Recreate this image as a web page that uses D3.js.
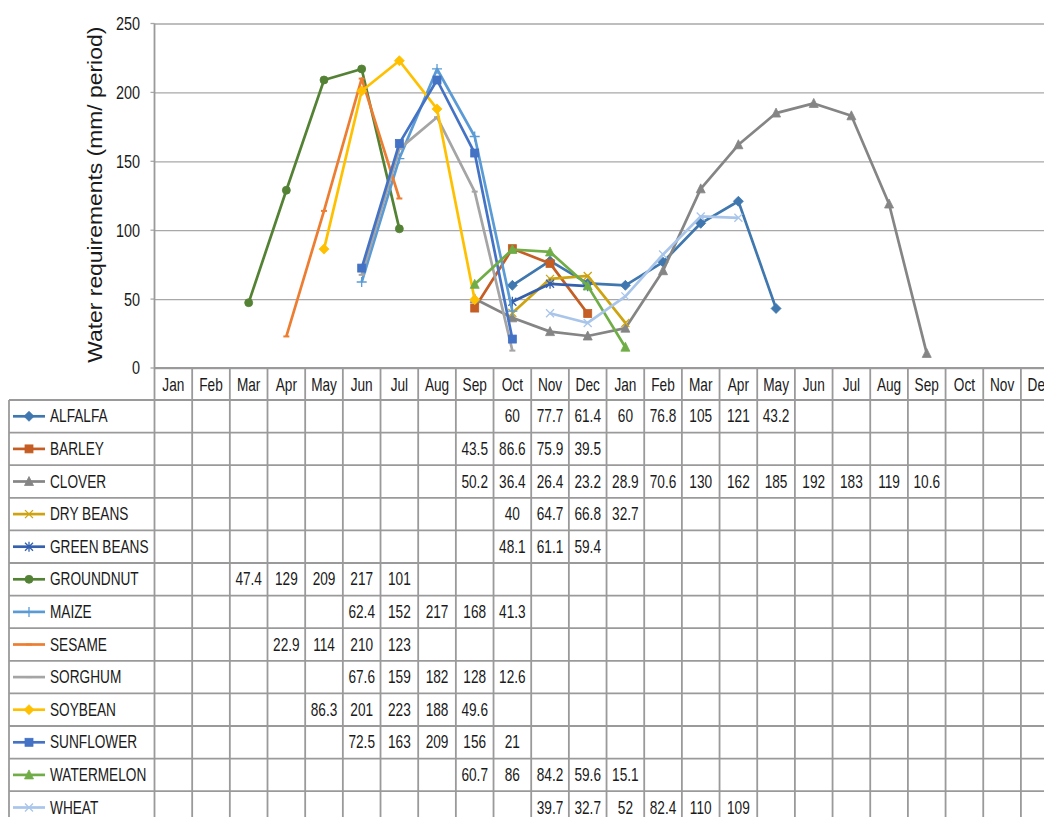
<!DOCTYPE html>
<html>
<head>
<meta charset="utf-8">
<script src="https://cdn.jsdelivr.net/npm/d3@7"></script>
<style>
  html, body { margin: 0; padding: 0; background: #fff; }
  svg { display: block; }
  text { font-family: "Liberation Sans Narrow", "Liberation Sans", Arial, sans-serif; fill: #1a1a1a; }
</style>
</head>
<body>
<svg id="chart" width="1044" height="817"></svg>
<script>
// Month categories across two consecutive years
const months = ["Jan","Feb","Mar","Apr","May","Jun","Jul","Aug","Sep","Oct","Nov","Dec",
                "Jan","Feb","Mar","Apr","May","Jun","Jul","Aug","Sep","Oct","Nov","Dec"];

const yTicks = [0, 50, 100, 150, 200, 250];

// Crops (series), in table order
const crops = ["ALFALFA","BARLEY","CLOVER","DRY BEANS","GREEN BEANS","GROUNDNUT",
               "MAIZE","SESAME","SORGHUM","SOYBEAN","SUNFLOWER","WATERMELON","WHEAT"];

// Index of the first month with a value, per crop
const startMonth = [9, 8, 8, 9, 9, 2, 5, 3, 5, 4, 5, 8, 10];

// Water requirements (mm / period), consecutive months from startMonth
const alfalfa    = [60, 77.7, 61.4, 60, 76.8, 105, 121, 43.2];
const barley     = [43.5, 86.6, 75.9, 39.5];
const clover     = [50.2, 36.4, 26.4, 23.2, 28.9, 70.6, 130, 162, 185, 192, 183, 119, 10.6];
const dryBeans   = [40, 64.7, 66.8, 32.7];
const greenBeans = [48.1, 61.1, 59.4];
const groundnut  = [47.4, 129, 209, 217, 101];
const maize      = [62.4, 152, 217, 168, 41.3];
const sesame     = [22.9, 114, 210, 123];
const sorghum    = [67.6, 159, 182, 128, 12.6];
const soybean    = [86.3, 201, 223, 188, 49.6];
const sunflower  = [72.5, 163, 209, 156, 21];
const watermelon = [60.7, 86, 84.2, 59.6, 15.1];
const wheat      = [39.7, 32.7, 52, 82.4, 110, 109];

const seriesValues = [alfalfa, barley, clover, dryBeans, greenBeans, groundnut,
                      maize, sesame, sorghum, soybean, sunflower, watermelon, wheat];

const colors = ["#3F77AE","#C55E24","#858585","#CDA30F","#3460AE","#548235",
                "#5B9BD5","#ED7D31","#A5A5A5","#FFC000","#4472C4","#70AD47","#A9C5EA"];
const markers = ["diamond","square","triangle","x","asterisk","circle",
                 "plus","dash","dash","diamond","square","triangle","x"];

const series = crops.map((name, i) => ({
  name,
  color: colors[i],
  marker: markers[i],
  points: seriesValues[i].map((v, k) => ({ m: startMonth[i] + k, v }))
}));

// Layout
const plotLeft = 154.5, colW = 37.67;
const plotRight = plotLeft + months.length * colW;
const plotTop = 23.5, plotBottom = 368;
const headerH = 32, rowH = 32.6;
const legendLeft = 9;
const tableTop = plotBottom;
const rowsTop = tableTop + headerH;
const squeeze = 0.78;        // horizontal condensing of label glyphs
const labelSize = 17.5;

const svg = d3.select("#chart");

const x = d3.scaleBand().domain(d3.range(months.length)).range([plotLeft, plotRight]).padding(0);
const y = d3.scaleLinear().domain([0, 250]).range([plotBottom, plotTop]);
const cx = i => x(i) + x.bandwidth() / 2;

// Condensed text placed at (px, py)
function label(parent, px, py, str, anchor, size) {
  return parent.append("g")
    .attr("transform", `translate(${px},${py}) scale(${squeeze},1)`)
    .append("text")
    .attr("dy", "0.35em")
    .attr("text-anchor", anchor)
    .attr("font-size", size)
    .text(str);
}

// Horizontal gridlines and value axis
const yAxis = d3.axisLeft(y).tickValues(yTicks).tickSize(-(plotRight - plotLeft)).tickSizeOuter(0);
const gy = svg.append("g").attr("transform", `translate(${plotLeft},0)`).call(yAxis);
gy.select(".domain").remove();
gy.selectAll(".tick line").attr("stroke", "#a8a8a8").attr("stroke-width", 1.3);
gy.selectAll(".tick text")
  .attr("x", -14.5 / squeeze)
  .attr("transform", `scale(${squeeze},1)`)
  .attr("font-size", 18.5)
  .style("fill", "#1a1a1a")
  .style("font-family", '"Liberation Sans Narrow", "Liberation Sans", Arial, sans-serif');

// Small outward tick marks
svg.append("g").selectAll("line").data(yTicks).join("line")
  .attr("x1", plotLeft - 4).attr("x2", plotLeft)
  .attr("y1", d => y(d)).attr("y2", d => y(d))
  .attr("stroke", "#a8a8a8").attr("stroke-width", 1.3);

// Axis title
svg.append("text")
  .attr("transform", `translate(102,${(plotTop + plotBottom) / 2 - 1}) rotate(-90)`)
  .attr("text-anchor", "middle")
  .attr("font-size", 21)
  .attr("textLength", 336)
  .attr("lengthAdjust", "spacingAndGlyphs")
  .text("Water requirements (mm/ period)");

// Data table grid
const tableBottom = 830;
const grid = svg.append("g").attr("stroke", "#9a9a9a").attr("stroke-width", 1.8).attr("fill", "none");
grid.append("line").attr("x1", plotLeft).attr("x2", plotRight).attr("y1", tableTop).attr("y2", tableTop);
d3.range(crops.length + 1).forEach(r => {
  const yy = rowsTop + r * rowH;
  grid.append("line").attr("x1", legendLeft).attr("x2", plotRight).attr("y1", yy).attr("y2", yy);
});
d3.range(months.length + 1).forEach(c => {
  const xx = plotLeft + c * colW;
  grid.append("line").attr("x1", xx).attr("x2", xx)
    .attr("y1", c === 0 ? plotTop : tableTop).attr("y2", tableBottom);
});
grid.append("line").attr("x1", legendLeft).attr("x2", legendLeft).attr("y1", rowsTop).attr("y2", tableBottom);

// Month header labels
const headG = svg.append("g");
months.forEach((m, i) => label(headG, cx(i), tableTop + headerH / 2 + 0.5, m, "middle", labelSize));

// Marker drawing
function drawMarker(g, type, color, px, py, s) {
  const h = s / 2;
  switch (type) {
    case "diamond":
      g.append("path").attr("d", `M${px},${py - h - 1}L${px + h + 1},${py}L${px},${py + h + 1}L${px - h - 1},${py}Z`)
        .attr("fill", color).attr("stroke", color).attr("stroke-width", 0.8);
      break;
    case "square":
      g.append("rect").attr("x", px - h).attr("y", py - h).attr("width", s).attr("height", s)
        .attr("fill", color).attr("stroke", color).attr("stroke-width", 0.8);
      break;
    case "triangle":
      g.append("path").attr("d", `M${px},${py - h - 1}L${px + h + 0.5},${py + h}L${px - h - 0.5},${py + h}Z`)
        .attr("fill", color).attr("stroke", color).attr("stroke-width", 0.8);
      break;
    case "circle":
      g.append("circle").attr("cx", px).attr("cy", py).attr("r", h)
        .attr("fill", color).attr("stroke", color).attr("stroke-width", 0.8);
      break;
    case "x":
      g.append("path").attr("d", `M${px - h},${py - h}L${px + h},${py + h}M${px - h},${py + h}L${px + h},${py - h}`)
        .attr("stroke", color).attr("stroke-width", 1.3).attr("fill", "none");
      break;
    case "asterisk":
      g.append("path").attr("d", `M${px - h},${py - h}L${px + h},${py + h}M${px - h},${py + h}L${px + h},${py - h}M${px},${py - h - 1}L${px},${py + h + 1}`)
        .attr("stroke", color).attr("stroke-width", 1.3).attr("fill", "none");
      break;
    case "plus":
      g.append("path").attr("d", `M${px - h - 1},${py}L${px + h + 1},${py}M${px},${py - h - 1}L${px},${py + h + 1}`)
        .attr("stroke", color).attr("stroke-width", 1.3).attr("fill", "none");
      break;
    case "dash":
      g.append("path").attr("d", `M${px - h + 1},${py}L${px + h - 1},${py}`)
        .attr("stroke", color).attr("stroke-width", 2).attr("fill", "none");
      break;
  }
}

// Lines and markers
const line = d3.line().x(d => cx(d.m)).y(d => y(d.v));
const plotG = svg.append("g");
series.forEach(s => {
  const g = plotG.append("g");
  g.append("path").datum(s.points).attr("d", line)
    .attr("fill", "none").attr("stroke", s.color).attr("stroke-width", 2.7)
    .attr("stroke-linejoin", "round");
  s.points.forEach(p => drawMarker(g, s.marker, s.color, cx(p.m), y(p.v), 8));
});

// Table rows: legend keys, crop names and values
series.forEach((s, r) => {
  const rowY = rowsTop + r * rowH + rowH / 2;
  const g = svg.append("g");
  g.append("line").attr("x1", 13).attr("x2", 45).attr("y1", rowY).attr("y2", rowY)
    .attr("stroke", s.color).attr("stroke-width", 2.7);
  drawMarker(g, s.marker, s.color, 29, rowY, 8);
  label(g, 50, rowY, s.name, "start", labelSize);
  s.points.forEach(p => label(g, cx(p.m), rowY, String(p.v), "middle", labelSize));
});
</script>
</body>
</html>
